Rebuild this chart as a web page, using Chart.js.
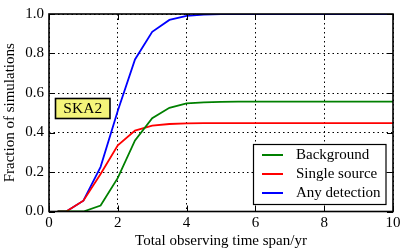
<!DOCTYPE html>
<html>
<head>
<meta charset="utf-8">
<script src="https://cdn.jsdelivr.net/npm/chart.js@4/dist/chart.umd.min.js"></script>
<style>
html,body{margin:0;padding:0;background:#fff;}
#wrap{width:407px;height:252px;position:relative;}
</style>
</head>
<body>
<div id="wrap"><canvas id="c" width="407" height="252"></canvas></div>
<script>
const times = [0.25, 0.5, 1, 1.5, 2, 2.5, 3, 3.5, 4, 4.5, 5, 5.5, 6, 6.5, 7, 7.5, 8, 8.5, 9, 9.5, 10];
const background = [0, 0, 0, 0.03, 0.17, 0.36, 0.472, 0.525, 0.547, 0.553, 0.555, 0.556, 0.556, 0.556, 0.556, 0.556, 0.556, 0.556, 0.556, 0.556, 0.556];
const singleSource = [0, 0, 0.055, 0.19, 0.335, 0.41, 0.435, 0.443, 0.446, 0.447, 0.447, 0.447, 0.447, 0.447, 0.447, 0.447, 0.447, 0.447, 0.447, 0.447, 0.447];
const anyDetection = [0, 0, 0.055, 0.226, 0.51, 0.77, 0.91, 0.97, 0.99, 0.997, 1, 1, 1, 1, 1, 1, 1, 1, 1, 1, 1];
const seriesLabels = ["Background", "Single source", "Any detection"];
const xTicks = [0, 2, 4, 6, 8, 10];
const yTicks = [0, 0.2, 0.4, 0.6, 0.8, 1.0];
const annotationText = "SKA2";

const SERIF = "'Liberation Serif', 'DejaVu Serif', serif";

function pts(v){ return times.map((t,i)=>({x:t,y:v[i]})); }

const framePlugin = {
  id: 'frame',
  afterDatasetsDraw(chart){
    const ctx = chart.ctx, a = chart.chartArea;
    const xs = chart.scales.x, ys = chart.scales.y;
    ctx.save();
    // inward ticks
    ctx.strokeStyle = '#000'; ctx.lineWidth = 1;
    const tl = 6;
    ctx.beginPath();
    xTicks.forEach(v=>{
      const px = Math.round(xs.getPixelForValue(v)) + 0.5;
      ctx.moveTo(px, a.bottom); ctx.lineTo(px, a.bottom - tl);
      ctx.moveTo(px, a.top); ctx.lineTo(px, a.top + tl);
    });
    yTicks.forEach(v=>{
      const py = Math.round(ys.getPixelForValue(v)) + 0.5;
      ctx.moveTo(a.left, py); ctx.lineTo(a.left + tl, py);
      ctx.moveTo(a.right, py); ctx.lineTo(a.right - tl, py);
    });
    ctx.stroke();
    // frame
    ctx.lineWidth = 1.6;
    ctx.strokeRect(a.left, a.top, a.right - a.left, a.bottom - a.top);

    // SKA2 annotation box
    ctx.font = "15.5px " + SERIF;
    const bx = 55.5, by = 98.5, bw = 54.5, bh = 20;
    ctx.fillStyle = '#f4f47a';
    ctx.fillRect(bx, by, bw, bh);
    ctx.lineWidth = 1.6; ctx.strokeStyle = '#000';
    ctx.strokeRect(bx, by, bw, bh);
    ctx.fillStyle = '#000'; ctx.textAlign = 'center'; ctx.textBaseline = 'middle';
    ctx.fillText(annotationText, bx + bw/2, by + bh/2 + 0.5);

    // legend
    const lx = 253.5, ly = 144.5, lw = 132.5, lh = 60;
    ctx.fillStyle = '#fff';
    ctx.fillRect(lx, ly, lw, lh);
    ctx.lineWidth = 1.2; ctx.strokeStyle = '#000';
    ctx.strokeRect(lx, ly, lw, lh);
    ctx.font = "15px " + SERIF;
    ctx.textAlign = 'left';
    const rows = [155, 174, 193];
    chart.data.datasets.forEach((ds, i)=>{
      ctx.strokeStyle = ds.borderColor; ctx.lineWidth = 2;
      ctx.beginPath(); ctx.moveTo(262, rows[i]); ctx.lineTo(283, rows[i]); ctx.stroke();
      ctx.fillStyle = '#000';
      ctx.fillText(ds.label, 296, rows[i] + 0.5);
    });
    ctx.restore();
  }
};

new Chart(document.getElementById('c'), {
  type: 'line',
  data: {
    datasets: [
      {label: seriesLabels[0], data: pts(background), borderColor: '#008000', borderWidth: 1.8, pointRadius: 0, tension: 0, fill: false},
      {label: seriesLabels[1], data: pts(singleSource), borderColor: '#ff0000', borderWidth: 1.8, pointRadius: 0, tension: 0, fill: false},
      {label: seriesLabels[2], data: pts(anyDetection), borderColor: '#0000ff', borderWidth: 1.8, pointRadius: 0, tension: 0, fill: false}
    ]
  },
  options: {
    responsive: false,
    animation: false,
    events: [],
    layout: {padding: {left: 0, top: 11, right: 14, bottom: 0}},
    plugins: {legend: {display: false}, tooltip: {enabled: false}},
    scales: {
      x: {
        type: 'linear', min: 0, max: 10,
        afterFit(s){ s.height = 40.5; },
        afterBuildTicks(s){ s.ticks = xTicks.map(v=>({value:v})); },
        grid: {color: '#000', lineWidth: 1, drawTicks: false},
        border: {display: false, dash: [1.5, 3]},
        ticks: {color: '#000', font: {family: SERIF, size: 15}, padding: 3, maxRotation: 0, callback: v=>String(v)},
        title: {display: true, text: 'Total observing time span/yr', color: '#000', font: {family: SERIF, size: 15}, padding: {top: 0, bottom: 2}}
      },
      y: {
        type: 'linear', min: 0, max: 1,
        afterFit(s){ s.width = 49; },
        afterBuildTicks(s){ s.ticks = yTicks.map(v=>({value:v})); },
        grid: {color: '#000', lineWidth: 1, drawTicks: false},
        border: {display: false, dash: [1.5, 3]},
        ticks: {color: '#000', font: {family: SERIF, size: 15}, padding: 5, callback: v=>Number(v).toFixed(1)},
        title: {display: true, text: 'Fraction of simulations', color: '#000', font: {family: SERIF, size: 15}, padding: {top: 1, bottom: 0}}
      }
    }
  },
  plugins: [framePlugin]
});
</script>
</body>
</html>
